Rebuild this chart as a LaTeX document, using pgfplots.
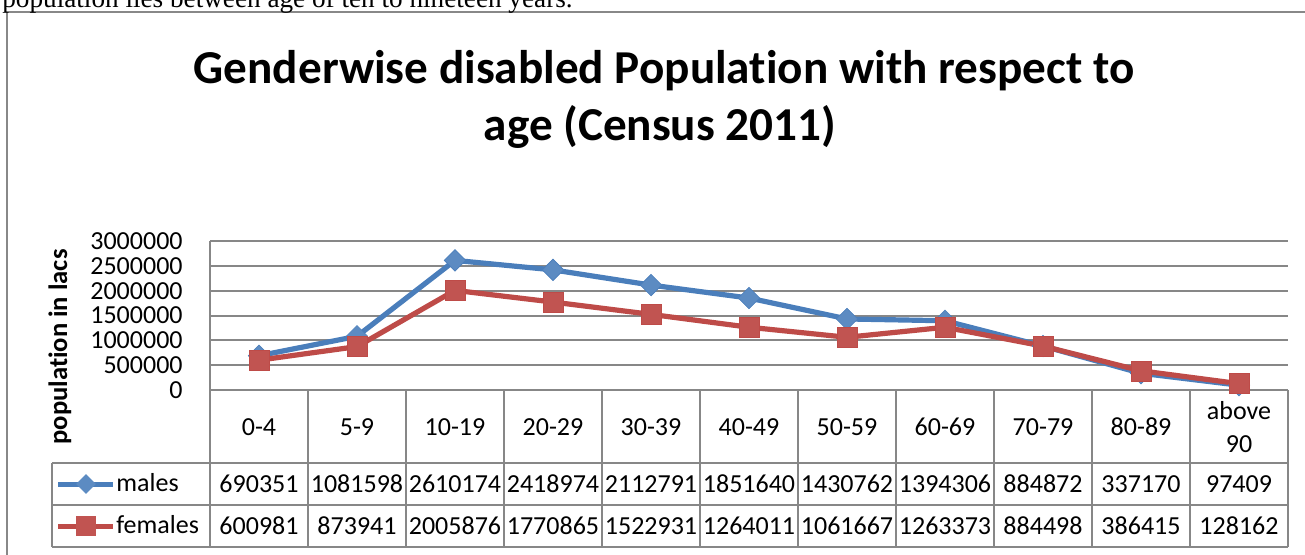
\documentclass[border=0pt]{standalone}
\usepackage{fontspec}
\setmainfont{Carlito}[Ligatures={NoCommon}]
\newfontfamily\timesf{Liberation Serif}
\usepackage{pgfplots}
\pgfplotsset{compat=1.18}
\definecolor{mblue}{HTML}{4A7EBB}
\definecolor{mred}{HTML}{BE4B48}
\definecolor{gridg}{HTML}{878787}
\definecolor{frameg}{HTML}{888888}
\begin{document}
\begin{tikzpicture}
\path[use as bounding box] (0pt,0pt) rectangle (652.5pt,-277pt);
\clip (0pt,0pt) rectangle (652.5pt,-277pt);
\begin{scope}[x=0.5pt,y=-0.5pt]
  % outer frame
  \draw[frameg, line width=1pt] (7,620) -- (7,12) -- (1330,12);
  % text above chart (cut off by the page edge, as in the reference)
  \node[anchor=base east, inner sep=0pt, font=\timesf\fontsize{13.6}{16}\selectfont] at (573,7) {population lies between age of ten to nineteen years.};
  % title
  \node[anchor=base, inner sep=0pt, font=\bfseries\fontsize{23.6}{28}\selectfont] at (664,83) {Genderwise disabled Population with respect to};
  \node[anchor=base, inner sep=0pt, font=\bfseries\fontsize{23.6}{28}\selectfont] at (660,140) {age (Census 2011)};
  % y label
  \node[rotate=90, inner sep=0pt, font=\bfseries\fontsize{13.3}{16}\selectfont] at (60,347) {population in lacs};
  % table grid
  \foreach \k in {0,...,11} {
    \draw[gridg, line width=1pt] ({210+98*\k},390) -- ({210+98*\k},547);
  }
  \draw[gridg, line width=1pt] (52,463) -- (1288,463);
  \draw[gridg, line width=1pt] (52,505) -- (1288,505);
  \draw[gridg, line width=1pt] (52,547) -- (1288,547);
  \draw[gridg, line width=1pt] (52,463) -- (52,547);
  \draw[gridg, line width=1pt] (210,241) -- (210,390);
  % table values
  \foreach \i/\m/\f in {0/690351/600981, 1/1081598/873941, 2/2610174/2005876, 3/2418974/1770865, 4/2112791/1522931, 5/1851640/1264011, 6/1430762/1061667, 7/1394306/1263373, 8/884872/884498, 9/337170/386415, 10/97409/128162} {
    \node[inner sep=0pt, anchor=center, font=\fontsize{13}{16}\selectfont] at ({259+98*\i},484) {\m};
    \node[inner sep=0pt, anchor=center, font=\fontsize{13}{16}\selectfont] at ({259+98*\i},526) {\f};
  }
  % legend keys
  \draw[mblue, line width=2.5pt] (58,484) -- (113,484);
  \fill[mblue!90!white, rotate around={45:(86,484)}] (79,477) rectangle (93,491);
  \node[anchor=west, inner sep=0pt, font=\fontsize{13}{16}\selectfont] at (116,483) {males};
  \draw[mred, line width=2.5pt] (58,526) -- (113,526);
  \fill[mred!95!white] (76,516) rectangle (96,536);
  \node[anchor=west, inner sep=0pt, font=\fontsize{13}{16}\selectfont] at (116,525) {females};
\end{scope}
\begin{axis}[
  at={(105pt,-195pt)}, anchor=south west,
  scale only axis, width=539pt, height=74.5pt,
  xmin=-0.5, xmax=10.5, ymin=0, ymax=3000000,
  axis line style={draw=none},
  major tick length=0pt,
  ytick={0,500000,1000000,1500000,2000000,2500000,3000000},
  scaled y ticks=false,
  yticklabel style={/pgf/number format/fixed, /pgf/number format/1000 sep={}, anchor=east, inner sep=0pt, xshift=-13.5pt},
  /pgf/number format/assume math mode=true,
  ticklabel style={font=\fontsize{13}{16.5}\selectfont},
  ymajorgrids, grid style={gridg, line width=1pt},
  xtick={0,1,2,3,4,5,6,7,8,9,10},
  xticklabels={0-4,5-9,10-19,20-29,30-39,40-49,50-59,60-69,70-79,80-89,{above\\90}},
  xticklabel style={anchor=center, align=center, inner sep=0pt, yshift=-18.5pt},
  clip=false,
]
\addplot[mblue, line width=2.6pt, mark=square*, mark size=3.8pt, mark options={rotate=45, fill=mblue!90!white, draw=mblue, line width=0.3pt}] coordinates {
 (0,690351) (1,1081598) (2,2610174) (3,2418974) (4,2112791) (5,1851640) (6,1430762) (7,1394306) (8,884872) (9,337170) (10,97409)};
\addplot[mred, line width=2.6pt, mark=square*, mark size=5pt, mark options={fill=mred!95!white, draw=mred, line width=0.3pt}] coordinates {
 (0,600981) (1,873941) (2,2005876) (3,1770865) (4,1522931) (5,1264011) (6,1061667) (7,1263373) (8,884498) (9,386415) (10,128162)};
\end{axis}
\end{tikzpicture}
\end{document}
